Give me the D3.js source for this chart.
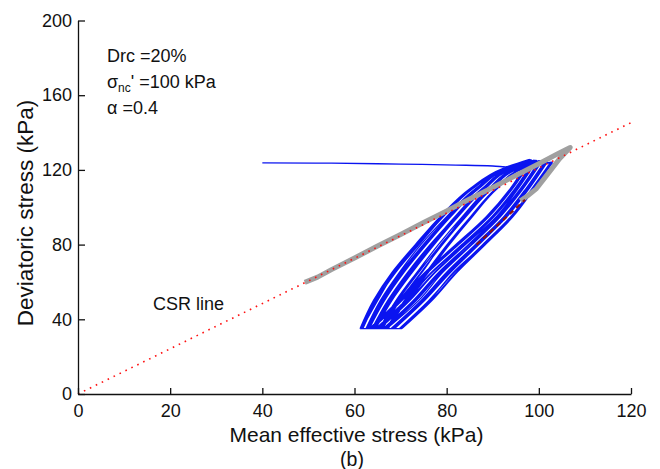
<!DOCTYPE html>
<html>
<head>
<meta charset="utf-8">
<script src="https://cdn.jsdelivr.net/npm/d3@7"></script>
<style>
  body { margin: 0; background: #fff; }
  svg text { font-family: "Liberation Sans", Arial, Helvetica, sans-serif; fill: #111; }
</style>
</head>
<body>
<div id="chart"></div>
<script>
var pxX = 660, pxY = 469;

// --- Data ---

var xTicks = [0, 20, 40, 60, 80, 100, 120];
var yTicks = [0, 40, 80, 120, 160, 200];

// CSR line (dotted red), through the origin
var csrP = [0, 120];
var csrQ = [0, 145.3];

// initial path (blue, nearly horizontal)
var initP = [40, 55, 70, 82, 90, 94, 97.5, 103.0];
var initQ = [123.8, 123.6, 123.1, 122.6, 122.1, 121.5, 122.0, 124.0];

// cyclic loops: p' read at fixed q levels
var qLoad = [35, 50, 65, 80, 95, 110, 121];
var qUnload = [110, 95, 80, 65, 50, 35];

var topP = [103.0, 102.9, 102.7, 102.6, 101.9, 101.8, 101.6, 101.5, 101.3, 100.7, 100.6, 100.4,
            100.3, 100.1, 99.6, 99.5, 99.3, 99.2, 99.0, 98.5, 98.4, 98.3, 98.1, 98.0];
var topQ = [124.0, 124.1, 124.0, 124.2, 124.4, 124.3, 124.5, 124.4, 124.6, 124.7, 124.8, 124.7,
            124.9, 124.9, 125.1, 125.0, 125.2, 125.1, 125.3, 125.4, 125.3, 125.5, 125.4, 125.6];

// loading branches for cycles 1..23 (cycle 0 starts from the initial path)
var loadP = [
  [67.3, 71.3, 76.0, 80.6, 85.6, 91.0, 96.9],
  [67.1, 71.1, 75.7, 80.3, 85.4, 90.8, 96.7],
  [66.9, 70.8, 75.5, 80.1, 85.2, 90.7, 96.6],
  [66.1, 69.9, 74.4, 79.1, 84.2, 89.9, 96.0],
  [65.9, 69.7, 74.6, 78.9, 84.0, 89.7, 95.9],
  [65.7, 69.4, 73.9, 78.7, 83.8, 89.5, 95.7],
  [65.6, 69.2, 73.7, 78.9, 83.6, 89.3, 95.6],
  [65.4, 69.0, 73.5, 78.2, 83.4, 89.1, 95.4],
  [64.6, 68.1, 72.5, 77.3, 82.5, 88.4, 94.9],
  [64.4, 67.9, 72.2, 77.1, 82.3, 88.2, 94.7],
  [64.2, 67.6, 72.0, 76.9, 82.1, 88.0, 94.6],
  [64.0, 67.4, 71.7, 76.6, 81.8, 87.8, 94.5],
  [63.8, 67.2, 71.5, 76.4, 81.9, 87.7, 94.3],
  [63.2, 66.5, 70.7, 75.6, 80.9, 87.0, 93.9],
  [63.0, 66.2, 70.4, 75.4, 80.7, 86.9, 93.7],
  [62.8, 66.0, 70.2, 75.2, 80.5, 86.7, 93.6],
  [62.6, 65.8, 70.0, 74.9, 80.3, 86.5, 93.5],
  [62.5, 65.6, 69.7, 74.4, 80.0, 86.3, 93.3],
  [61.8, 64.8, 68.9, 74.0, 79.3, 85.7, 92.9],
  [61.6, 65.0, 68.7, 73.7, 79.1, 85.5, 92.7],
  [61.5, 64.5, 68.5, 73.6, 79.0, 85.4, 92.6],
  [61.3, 64.3, 68.3, 73.4, 78.7, 85.2, 92.5],
  [61.2, 64.1, 68.1, 73.2, 78.6, 85.1, 92.4]
];

// unloading branches for cycles 0..23
var unloadP = [
  [99.0, 94.4, 88.4, 82.2, 76.8, 70.3],
  [98.8, 94.2, 88.2, 82.0, 76.6, 70.1],
  [98.7, 94.1, 88.0, 81.4, 76.3, 69.9],
  [98.5, 93.9, 87.8, 81.6, 76.1, 69.7],
  [97.9, 93.1, 87.0, 80.8, 75.2, 68.7],
  [97.7, 92.9, 86.8, 80.5, 75.0, 68.5],
  [97.5, 92.8, 86.6, 80.3, 74.8, 68.3],
  [97.4, 92.6, 86.4, 80.1, 74.6, 68.1],
  [97.2, 92.4, 86.2, 79.9, 74.4, 67.9],
  [96.6, 91.7, 85.5, 79.1, 73.9, 67.0],
  [96.5, 91.6, 85.3, 78.8, 73.4, 66.8],
  [96.3, 91.4, 84.8, 78.6, 73.1, 66.6],
  [96.1, 91.2, 84.9, 78.4, 72.9, 66.4],
  [96.0, 91.0, 84.7, 78.2, 72.7, 66.2],
  [95.5, 90.8, 84.1, 77.5, 72.0, 65.5],
  [95.3, 90.3, 83.9, 77.3, 71.7, 65.3],
  [95.2, 90.1, 83.7, 76.7, 71.5, 65.0],
  [95.0, 89.9, 83.5, 76.8, 71.2, 64.8],
  [94.8, 89.8, 83.3, 76.6, 71.0, 64.6],
  [94.3, 89.2, 82.6, 75.9, 70.3, 63.9],
  [94.2, 89.0, 82.4, 75.7, 70.1, 63.7],
  [94.1, 88.9, 82.3, 75.6, 69.9, 63.6],
  [93.9, 88.7, 82.1, 75.4, 69.7, 63.3],
  [93.8, 88.6, 82.0, 75.2, 69.5, 63.2]
];

// gray path, upper and right branches
var grayP = [49.2, 52, 55, 60, 65, 70, 75, 80, 85, 90, 95, 100, 104, 106.8, 104.5, 102, 99.5, 97.5, 96];
var grayQ = [59.8, 62.6, 66.6, 72.8, 79.2, 85.4, 91.8, 98.0, 104.4, 110.6, 117.0, 123.3, 128.5, 132.0, 126.0, 118.0, 110.0, 106.0, 103.5];

// dark red dashed segment
var darkP = [86.5, 97];
var darkQ = [80, 104];

// --- Scales ---

var scX = d3.scaleLinear().domain([0, 120]).range([78, 631]);
var scY = d3.scaleLinear().domain([0, 200]).range([394, 20.5]);

var svg = d3.select("#chart").append("svg")
  .attr("width", pxX)
  .attr("height", pxY);

var line = d3.line().x(d => scX(d[0])).y(d => scY(d[1]));
var smooth = d3.line().x(d => scX(d[0])).y(d => scY(d[1])).curve(d3.curveMonotoneX);
var branch = d3.line().x(d => scX(d[0])).y(d => scY(d[1])).curve(d3.curveMonotoneY);

// --- Blue stress path: each branch monotone in q, bottoms joined straight ---

var dBlue = smooth(d3.zip(initP, initQ));
for (var i = 0; i < topP.length; i++) {
  var apex = [topP[i], topQ[i]];
  if (i > 0) {
    var prevEnd = [unloadP[i - 1][5], 35];
    var up = loadP[i - 1].map((p, j) => [p, qLoad[j]]);
    dBlue += line([prevEnd, up[0]]);
    dBlue += branch(up.concat([apex]));
  }
  var down = unloadP[i].map((p, j) => [p, qUnload[j]]);
  dBlue += branch([apex].concat(down));
}

svg.append("path")
  .attr("fill", "none")
  .attr("stroke", "#0a14f0")
  .attr("stroke-width", 1.3)
  .attr("d", dBlue);

// --- Gray path ---

svg.append("path")
  .attr("fill", "none")
  .attr("stroke", "#a0a0a0")
  .attr("stroke-width", 5)
  .attr("stroke-linejoin", "round")
  .attr("d", line(d3.zip(grayP, grayQ)));

// --- CSR line and dashed segment ---

svg.append("path")
  .attr("fill", "none")
  .attr("stroke", "#ff1010")
  .attr("stroke-width", 1.6)
  .attr("stroke-dasharray", "1.6,5")
  .attr("d", line(d3.zip(csrP, csrQ)));

svg.append("path")
  .attr("fill", "none")
  .attr("stroke", "#8b1010")
  .attr("stroke-width", 2.2)
  .attr("stroke-dasharray", "5,4")
  .attr("d", line(d3.zip(darkP, darkQ)));

// --- Axes ---

var gx = svg.append("g")
  .attr("transform", `translate(0, ${scY(0)})`)
  .call(d3.axisBottom(scX).tickValues(xTicks).tickSizeInner(-6).tickSizeOuter(0).tickPadding(10));
var gy = svg.append("g")
  .attr("transform", `translate(${scX(0)}, 0)`)
  .call(d3.axisLeft(scY).tickValues(yTicks).tickSizeInner(-7).tickSizeOuter(0).tickPadding(6));

[gx, gy].forEach(g => {
  g.selectAll("path, line").attr("stroke", "#111").attr("stroke-width", 1.3);
  g.selectAll("text").attr("font-size", 18).attr("fill", "#111")
    .attr("font-family", "'Liberation Sans', Arial, sans-serif");
});

svg.append("text")
  .attr("x", 356.5).attr("y", 442)
  .attr("text-anchor", "middle")
  .attr("font-size", 21)
  .text("Mean effective stress (kPa)");

svg.append("text")
  .attr("x", 352).attr("y", 466)
  .attr("text-anchor", "middle")
  .attr("font-size", 19.5)
  .text("(b)");

svg.append("text")
  .attr("transform", "translate(33, 213) rotate(-90)")
  .attr("text-anchor", "middle")
  .attr("font-size", 22.5)
  .text("Deviatoric stress (kPa)");

// --- Annotations ---

svg.append("text")
  .attr("x", 107).attr("y", 62)
  .attr("font-size", 18)
  .text("Drc =20%");

var t2 = svg.append("text")
  .attr("x", 107).attr("y", 88)
  .attr("font-size", 18);
t2.append("tspan").text("σ");
t2.append("tspan").attr("font-size", 12).attr("dy", 4).text("nc");
t2.append("tspan").attr("dy", -4).text("' =100 kPa");

svg.append("text")
  .attr("x", 107).attr("y", 114)
  .attr("font-size", 18)
  .text("α =0.4");

svg.append("text")
  .attr("x", 153).attr("y", 310)
  .attr("font-size", 18)
  .text("CSR line");
</script>
</body>
</html>
